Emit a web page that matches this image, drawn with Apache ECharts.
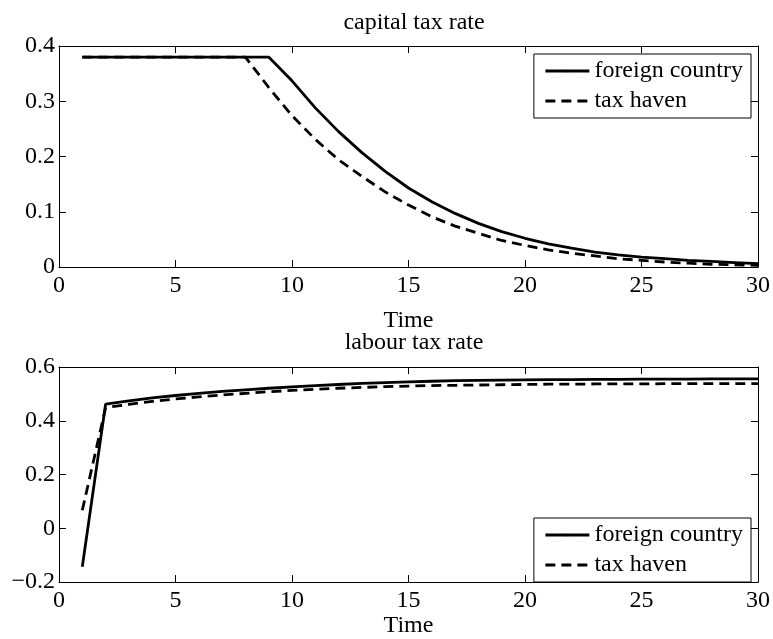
<!DOCTYPE html>
<html>
<head>
<meta charset="utf-8">
<script src="https://cdn.jsdelivr.net/npm/echarts@6/dist/echarts.min.js"></script>
<style>
    html, body { margin: 0; padding: 0; background: #fff; }
    #chart { width: 773px; height: 639px; }
</style>
</head>
<body>
<div id="chart"></div>
<script>
// 时间轴（期数）
var time = [1, 2, 3, 4, 5, 6, 7, 8, 9, 10, 11, 12, 13, 14, 15, 16, 17, 18, 19, 20, 21, 22, 23, 24, 25, 26, 27, 28, 29, 30];
// 资本税率
var capitalForeign = [0.38, 0.38, 0.38, 0.38, 0.38, 0.38, 0.38, 0.38, 0.38, 0.337, 0.288, 0.245, 0.207, 0.173, 0.143, 0.118, 0.097, 0.079, 0.064, 0.052, 0.042, 0.034, 0.027, 0.022, 0.018, 0.015, 0.012, 0.010, 0.008, 0.006];
var capitalHaven = [0.38, 0.38, 0.38, 0.38, 0.38, 0.38, 0.38, 0.38, 0.325, 0.274, 0.231, 0.194, 0.164, 0.136, 0.112, 0.091, 0.074, 0.061, 0.048, 0.039, 0.031, 0.025, 0.020, 0.015, 0.012, 0.009, 0.007, 0.005, 0.004, 0.003];
// 劳动税率
var labourForeign = [-0.143, 0.462, 0.474, 0.485, 0.494, 0.502, 0.509, 0.515, 0.521, 0.526, 0.531, 0.535, 0.539, 0.542, 0.545, 0.547, 0.549, 0.550, 0.551, 0.552, 0.553, 0.553, 0.554, 0.554, 0.555, 0.555, 0.555, 0.556, 0.556, 0.556];
var labourHaven = [0.067, 0.449, 0.461, 0.472, 0.481, 0.489, 0.496, 0.502, 0.508, 0.513, 0.517, 0.521, 0.524, 0.527, 0.529, 0.531, 0.532, 0.533, 0.534, 0.535, 0.536, 0.536, 0.537, 0.537, 0.537, 0.538, 0.538, 0.538, 0.538, 0.538];
// 刻度
var xTicks = { min: 0, max: 30, interval: 5 };
var capTicks = { min: 0, max: 0.4, interval: 0.1 };
var labTicks = { min: -0.2, max: 0.6, interval: 0.2 };

var seriesNames = ['foreign country', 'tax haven'];
var FONT = 'Liberation Serif';
var FS = 24;

function pairs(ys) {
    return time.map(function(t, i) { return [t, ys[i]]; });
}

function fmt(v) {
    return String(Math.round(v * 10) / 10).replace('-', '\u2212');
}

function xAx(grid, pos, main, nameGap) {
    return {
        type: 'value', gridIndex: grid, position: pos,
        min: xTicks.min, max: xTicks.max, interval: xTicks.interval,
        name: main ? 'Time' : '', nameLocation: 'middle', nameGap: nameGap,
        nameTextStyle: { fontFamily: FONT, fontSize: FS, color: '#000' },
        axisLine: { show: true, onZero: false, lineStyle: { color: '#000', width: 1 } },
        axisTick: { show: true, inside: true, length: 7, lineStyle: { color: '#000' } },
        axisLabel: { show: main, margin: 7, fontFamily: FONT, fontSize: FS, color: '#000' },
        splitLine: { show: false }
    };
}

function yAx(grid, pos, ticks, main) {
    return {
        type: 'value', gridIndex: grid, position: pos,
        min: ticks.min, max: ticks.max, interval: ticks.interval,
        axisLine: { show: true, onZero: false, lineStyle: { color: '#000', width: 1 } },
        axisTick: { show: true, inside: true, length: 7, lineStyle: { color: '#000' } },
        axisLabel: { show: main, margin: 4, fontFamily: FONT, fontSize: FS, color: '#000', formatter: fmt },
        splitLine: { show: false }
    };
}

function line(name, xi, yi, ys, dashed) {
    return {
        name: name, type: 'line', xAxisIndex: xi, yAxisIndex: yi,
        data: pairs(ys), symbol: 'none', silent: true, animation: false,
        itemStyle: { color: '#000' },
        lineStyle: { color: '#000', width: 2.8, type: dashed ? [10, 6] : 'solid' }
    };
}

function legend(top) {
    return {
        data: seriesNames, orient: 'vertical', right: 22, top: top,
        itemWidth: 44, itemHeight: 3, itemGap: 6,
        padding: [5, 8, 5, 10],
        backgroundColor: '#fff', borderColor: '#000', borderWidth: 1, borderRadius: 0,
        lineStyle: { width: 3 },
        textStyle: { fontFamily: FONT, fontSize: FS, color: '#000' },
        selectedMode: false
    };
}

var chart = echarts.init(document.getElementById('chart'));
var option = {
    backgroundColor: '#fff',
    animation: false,
    title: [
        { text: 'capital tax rate', left: 409, top: 6, textAlign: 'center',
          textStyle: { fontFamily: FONT, fontSize: FS, fontWeight: 'normal', color: '#000' } },
        { text: 'labour tax rate', left: 409, top: 326, textAlign: 'center',
          textStyle: { fontFamily: FONT, fontSize: FS, fontWeight: 'normal', color: '#000' } }
    ],
    grid: [
        { left: 59, top: 46, width: 700, height: 221 },
        { left: 59, top: 367, width: 700, height: 221 }
    ],
    legend: [legend(54), legend(518)],
    xAxis: [
        xAx(0, 'bottom', true, 42),
        xAx(0, 'top', false, 0),
        xAx(1, 'bottom', true, 30),
        xAx(1, 'top', false, 0)
    ],
    yAxis: [
        yAx(0, 'left', capTicks, true),
        yAx(0, 'right', capTicks, false),
        yAx(1, 'left', labTicks, true),
        yAx(1, 'right', labTicks, false)
    ],
    series: [
        line(seriesNames[0], 0, 0, capitalForeign, false),
        line(seriesNames[1], 0, 0, capitalHaven, true),
        line(seriesNames[0], 2, 2, labourForeign, false),
        line(seriesNames[1], 2, 2, labourHaven, true)
    ]
};
chart.setOption(option);
</script>
</body>
</html>
